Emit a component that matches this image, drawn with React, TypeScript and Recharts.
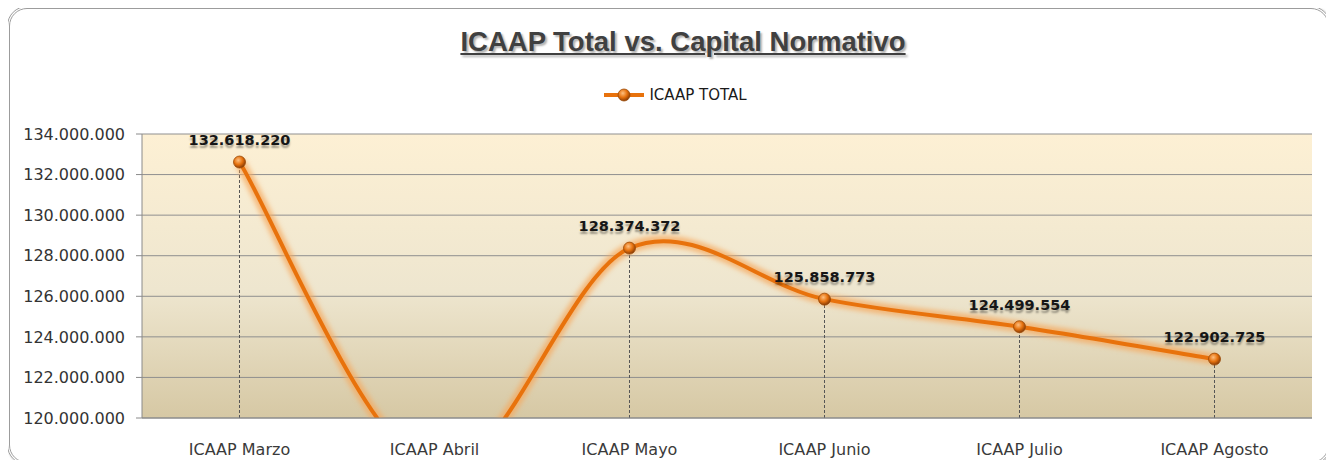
import React from 'react';
import {
  LineChart,
  Line,
  XAxis,
  YAxis,
  CartesianGrid,
  ReferenceLine,
  LabelList,
} from 'recharts';

const categories = [
  'ICAAP Marzo',
  'ICAAP Abril',
  'ICAAP Mayo',
  'ICAAP Junio',
  'ICAAP Julio',
  'ICAAP Agosto',
];
// Abril falls below the axis minimum; value estimated from the curve
const icaapTotal = [132618220, 117400000, 128374372, 125858773, 124499554, 122902725];
const yTicks = [120000000, 122000000, 124000000, 126000000, 128000000, 130000000, 132000000, 134000000];

const Y_MIN = yTicks[0];
const Y_MAX = yTicks[yTicks.length - 1];

const data = categories.map((name, i) => ({ name, total: icaapTotal[i] }));

const fmt = (n: number) => String(Math.round(n)).replace(/\B(?=(\d{3})+(?!\d))/g, '.');

// Excel style smoothed line (Catmull-Rom as cubic bezier)
function excelSmooth(context: any) {
  let xs: number[] = [];
  let ys: number[] = [];
  return {
    areaStart() {},
    areaEnd() {},
    lineStart() {
      xs = [];
      ys = [];
    },
    lineEnd() {
      const n = xs.length;
      if (!n) return;
      context.moveTo(xs[0], ys[0]);
      for (let i = 0; i < n - 1; i++) {
        const p = Math.max(i - 1, 0);
        const q = Math.min(i + 2, n - 1);
        context.bezierCurveTo(
          xs[i] + (xs[i + 1] - xs[p]) / 6,
          ys[i] + (ys[i + 1] - ys[p]) / 6,
          xs[i + 1] - (xs[q] - xs[i]) / 6,
          ys[i + 1] - (ys[q] - ys[i]) / 6,
          xs[i + 1],
          ys[i + 1]
        );
      }
    },
    point(x: number, y: number) {
      xs.push(+x);
      ys.push(+y);
    },
  };
}

const renderLabel = (props: any) => {
  const { x, y, value } = props;
  if (value < Y_MIN || value > Y_MAX) return null;
  return (
    <text
      x={x}
      y={y - 17}
      textAnchor="middle"
      fontFamily="DejaVu Sans"
      fontWeight="bold"
      fontSize={14.5}
      fill="#161616"
      style={{ textShadow: '0px 3px 2px rgba(0,0,0,0.35)' }}
    >
      {fmt(value)}
    </text>
  );
};

export default function App() {
  return (
    <div style={{ position: 'relative', width: 1334, height: 468, margin: -8, background: '#fff', overflow: 'hidden' }}>
      <div
        style={{
          position: 'absolute',
          left: 7,
          top: 6,
          width: 1318,
          height: 453,
          border: '3px double #9c9c9c',
          borderRadius: 20,
          boxShadow: '1px 1px 2px rgba(0,0,0,0.25)',
        }}
      />
      <div
        style={{
          position: 'absolute',
          top: 26,
          left: 16,
          width: 1334,
          textAlign: 'center',
          fontFamily: 'Liberation Sans',
          fontWeight: 'bold',
          fontSize: 27.5,
          color: '#404040',
          textDecoration: 'underline',
          textShadow: '2px 2px 2px rgba(0,0,0,0.3)',
        }}
      >
        ICAAP Total vs. Capital Normativo
      </div>
      <div
        style={{
          position: 'absolute',
          top: 86,
          left: 8,
          width: 1334,
          display: 'flex',
          justifyContent: 'center',
          alignItems: 'center',
          fontFamily: 'DejaVu Sans',
          fontSize: 15,
          color: '#1a1a1a',
        }}
      >
        <svg width={42} height={18} style={{ marginRight: 4 }}>
          <defs>
            <radialGradient id="legBall" cx="40%" cy="35%" r="65%">
              <stop offset="0%" stopColor="#FDBF80" />
              <stop offset="55%" stopColor="#E6720E" />
              <stop offset="100%" stopColor="#8A3C05" />
            </radialGradient>
          </defs>
          <line x1={1} y1={9} x2={41} y2={9} stroke="#E8720C" strokeWidth={4} />
          <circle cx={21} cy={9} r={6} fill="url(#legBall)" stroke="#9a4a08" strokeWidth={0.8} />
        </svg>
        ICAAP TOTAL
      </div>
      <div style={{ position: 'absolute', left: 0, top: 0 }}>
        <LineChart
          width={1334}
          height={468}
          data={data}
          margin={{ top: 134, right: 22, bottom: 20, left: 0 }}
        >
          <defs>
            <linearGradient id="plotBg" x1="0" y1="0" x2="0" y2="1">
              <stop offset="0%" stopColor="#FDF0D4" />
              <stop offset="55%" stopColor="#EEE6CF" />
              <stop offset="100%" stopColor="#D6C8A4" />
            </linearGradient>
            <radialGradient id="ball" cx="40%" cy="35%" r="65%">
              <stop offset="0%" stopColor="#FDBF80" />
              <stop offset="55%" stopColor="#E6720E" />
              <stop offset="100%" stopColor="#8A3C05" />
            </radialGradient>
            <filter id="glow" x="-20%" y="-20%" width="140%" height="140%">
              <feGaussianBlur stdDeviation="2.5" />
            </filter>
          </defs>
          <CartesianGrid vertical={false} stroke="#8f8f8f" fill="url(#plotBg)" fillOpacity={1} />
          <XAxis
            dataKey="name"
            height={30}
            padding={{ left: 97.5, right: 97.5 }}
            tickLine={false}
            tickMargin={20}
            axisLine={{ stroke: '#8a8a8a' }}
            tick={{ fontFamily: 'DejaVu Sans', fontSize: 16, fill: '#3a3a3a' }}
          />
          <YAxis
            width={142}
            domain={[Y_MIN, Y_MAX]}
            ticks={yTicks}
            allowDataOverflow
            tickSize={6}
            tickMargin={11}
            tickFormatter={fmt}
            axisLine={{ stroke: '#8a8a8a' }}
            tickLine={{ stroke: '#8a8a8a' }}
            tick={{ fontFamily: 'DejaVu Sans', fontSize: 16, fill: '#333' }}
          />
          {data
            .filter((d) => d.total >= Y_MIN && d.total <= Y_MAX)
            .map((d) => (
              <ReferenceLine
                key={d.name}
                segment={[
                  { x: d.name, y: Y_MIN },
                  { x: d.name, y: d.total },
                ]}
                stroke="#555"
                strokeDasharray="3 2"
              />
            ))}
          <Line
            dataKey="total"
            type={excelSmooth as any}
            stroke="#F5A85E"
            strokeOpacity={0.75}
            strokeWidth={11}
            filter="url(#glow)"
            dot={false}
            activeDot={false}
            legendType="none"
            isAnimationActive={false}
          />
          <Line
            dataKey="total"
            type={excelSmooth as any}
            stroke="#E8720C"
            strokeWidth={4}
            dot={{ r: 6, fill: 'url(#ball)', stroke: '#9a4a08', strokeWidth: 0.8 }}
            activeDot={false}
            isAnimationActive={false}
          >
            <LabelList dataKey="total" content={renderLabel} />
          </Line>
        </LineChart>
      </div>
    </div>
  );
}
